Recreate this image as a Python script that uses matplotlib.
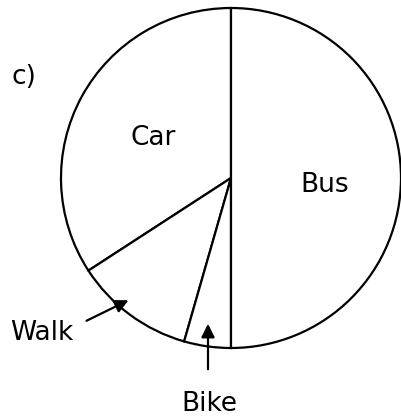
import matplotlib
matplotlib.use("Agg")
import matplotlib.pyplot as plt

# Sector sizes (degrees of the circle)
modes = ['Car', 'Walk', 'Bike', 'Bus']
angles = [123, 41, 16, 180]

W, H = 401, 417


def py(y):
    """pixel row (from top) -> data y"""
    return H - y


fig = plt.figure(figsize=(W / 100, H / 100), dpi=100)
ax = fig.add_axes([0, 0, 1, 1])

ax.pie(angles, center=(231, py(178)), radius=170, startangle=90, counterclock=True,
       colors=['white'] * len(angles),
       wedgeprops=dict(edgecolor='black', linewidth=1.6))

ax.set_xlim(0, W)
ax.set_ylim(0, H)
ax.set_aspect('equal')
ax.axis('off')

fs = 19
ax.text(153, py(138), 'Car', ha='center', va='center', fontsize=fs)
ax.text(325, py(185), 'Bus', ha='center', va='center', fontsize=fs)
ax.text(42, py(333), 'Walk', ha='center', va='center', fontsize=fs)
ax.text(209, py(404), 'Bike', ha='center', va='center', fontsize=fs)
ax.text(24, py(77), 'c)', ha='center', va='center', fontsize=fs)

arrow = dict(arrowstyle='-|>', color='black', lw=1.6, mutation_scale=20)
ax.annotate('', xy=(131, py(299)), xytext=(84, py(322)), arrowprops=arrow)
ax.annotate('', xy=(208, py(321)), xytext=(208, py(372)), arrowprops=arrow)

plt.savefig('out.png', dpi=100)
plt.close()
